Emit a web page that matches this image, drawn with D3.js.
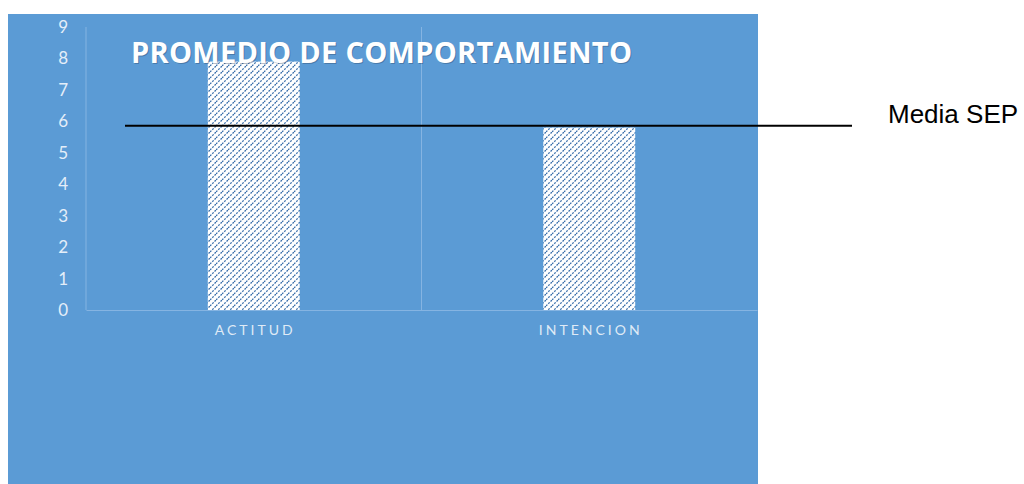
<!DOCTYPE html>
<html>
<head>
<meta charset="utf-8">
<script src="https://cdn.jsdelivr.net/npm/d3@7"></script>
<style>
  body { margin: 0; background: #fff; }
  svg { display: block; }
</style>
</head>
<body>
<div id="divbody"></div>
<script>
var categories = ["ACTITUD", "INTENCION"];
var values = [7.9, 5.8];
var yTicks = [0, 1, 2, 3, 4, 5, 6, 7, 8, 9];
var mediaSEP = 5.86;
var mediaLabel = "Media SEP";
var title = "PROMEDIO DE COMPORTAMIENTO";

var width = 1024;
var height = 484;
var plot = {left: 86, right: 757, top: 27, bottom: 310};

var svg = d3.select("#divbody").append("svg")
  .attr("width", width)
  .attr("height", height);

// hatch used by the bars
var defs = svg.append("defs");
var pat = defs.append("pattern")
  .attr("id", "hatch")
  .attr("patternUnits", "userSpaceOnUse")
  .attr("width", 6)
  .attr("height", 6);
pat.append("rect").attr("width", 6).attr("height", 6).attr("fill", "#ffffff");
pat.append("path")
  .attr("d", "M0,6 L6,0 M-1.5,1.5 L1.5,-1.5 M4.5,7.5 L7.5,4.5")
  .attr("stroke", "#3a6fab")
  .attr("stroke-width", 1.25)
  .attr("stroke-dasharray", "2,1.2");

// chart background
svg.append("rect")
  .attr("x", 8)
  .attr("y", 14)
  .attr("width", 750)
  .attr("height", 470)
  .attr("fill", "#5b9bd5");

var x = d3.scaleBand()
  .domain(categories)
  .range([plot.left, plot.right])
  .paddingInner(0)
  .paddingOuter(0);

var y = d3.scaleLinear()
  .domain([0, 9])
  .range([plot.bottom, plot.top]);

// category separators and left axis line
svg.append("g").selectAll("line")
  .data(categories)
  .enter()
  .append("line")
  .attr("x1", function(d) { return x(d); })
  .attr("x2", function(d) { return x(d); })
  .attr("y1", y(9))
  .attr("y2", y(0))
  .attr("stroke", "#85b4e2")
  .attr("stroke-width", 1);

var yAxis = svg.append("g")
  .attr("transform", "translate(" + plot.left + ",0)")
  .call(d3.axisLeft(y).tickValues(yTicks).tickSize(0).tickPadding(18));
yAxis.select(".domain").remove();
yAxis.selectAll("text")
  .attr("fill", "#e4eef9")
  .attr("font-family", "Lato, 'Open Sans', sans-serif")
  .attr("font-size", 17);

var bw = x.bandwidth() * 0.274;
svg.append("g").selectAll("rect")
  .data(values)
  .enter()
  .append("rect")
  .attr("x", function(d, i) { return x(categories[i]) + x.bandwidth() / 2 - bw / 2; })
  .attr("y", function(d) { return y(d); })
  .attr("width", bw)
  .attr("height", function(d) { return y(0) - y(d); })
  .attr("fill", "url(#hatch)");

var xAxis = svg.append("g")
  .attr("transform", "translate(0," + plot.bottom + ")")
  .call(d3.axisBottom(x).tickSize(0).tickPadding(15));
xAxis.select(".domain")
  .attr("stroke", "#85b4e2")
  .attr("stroke-width", 1.2);
xAxis.selectAll("text")
  .attr("fill", "#dfeaf6")
  .attr("font-family", "Lato, 'Open Sans', sans-serif")
  .attr("font-size", 14)
  .attr("letter-spacing", "3px")
  .attr("dx", "1.5px");

// title with soft shadow
svg.append("text")
  .attr("x", 132)
  .attr("y", 64)
  .attr("textLength", 501)
  .attr("lengthAdjust", "spacing")
  .attr("fill", "rgba(40,60,90,0.35)")
  .attr("font-family", "'Open Sans', Lato, sans-serif")
  .attr("font-weight", "bold")
  .attr("font-size", 29)
  .text(title);
svg.append("text")
  .attr("x", 131)
  .attr("y", 63)
  .attr("textLength", 501)
  .attr("lengthAdjust", "spacing")
  .attr("fill", "#ffffff")
  .attr("font-family", "'Open Sans', Lato, sans-serif")
  .attr("font-weight", "bold")
  .attr("font-size", 29)
  .text(title);

// Media SEP reference line
svg.append("line")
  .attr("x1", plot.left + 39)
  .attr("x2", 852)
  .attr("y1", y(mediaSEP))
  .attr("y2", y(mediaSEP))
  .attr("stroke", "#000")
  .attr("stroke-width", 2);

svg.append("text")
  .attr("x", 888)
  .attr("y", 123)
  .attr("fill", "#000")
  .attr("font-family", "'Liberation Sans', Arial, sans-serif")
  .attr("font-size", 26)
  .text(mediaLabel);
</script>
</body>
</html>
